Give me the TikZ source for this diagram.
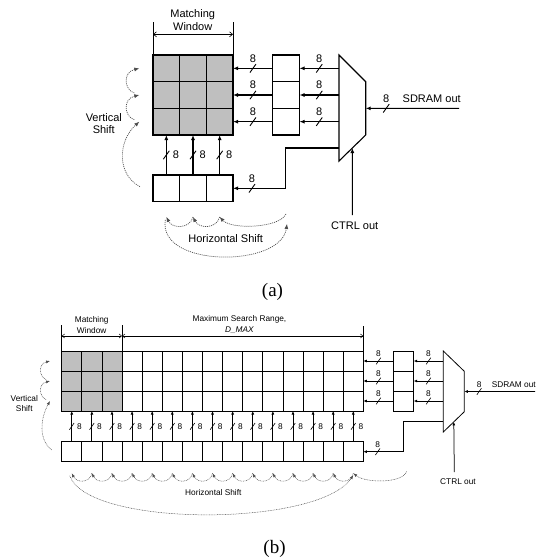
\documentclass[tikz,border=0pt]{standalone}
\usepackage{fontspec}
\setmainfont{Liberation Sans}
\newfontfamily\capfont{Liberation Serif}
\usetikzlibrary{arrows.meta, calc}

\begin{document}
\begin{tikzpicture}[x=1pt, y=-1pt,
    cellA/.style={draw, line width=1.2pt, minimum width=26.67pt, minimum height=26.67pt, inner sep=0pt, outer sep=0pt},
    cellB/.style={draw, line width=0.8pt, minimum width=20.11pt, minimum height=20pt, inner sep=0pt, outer sep=0pt},
    busA/.style={-{Latex[length=5pt,width=4pt]}, line width=1.1pt},
    busB/.style={-{Latex[length=3.5pt,width=3pt]}, line width=0.75pt},
    shiftA/.style={-{Latex[length=5pt,width=4pt]}, line width=0.7pt, gray!60!black, dash pattern=on 1pt off 1pt},
    shiftB/.style={-{Latex[length=4pt,width=3pt]}, line width=0.5pt, gray!60!black, dash pattern=on 0.8pt off 0.8pt},
    dimA/.style={{Straight Barb[length=3pt,width=5pt]}-{Straight Barb[length=3pt,width=5pt]}, line width=0.6pt},
    dimB/.style={{Straight Barb[length=2.5pt,width=4pt]}-{Straight Barb[length=2.5pt,width=4pt]}, line width=0.5pt},
    txtA/.style={font=\fontsize{11}{13.4}\selectfont, align=center, inner sep=1pt},
    txtB/.style={font=\fontsize{8.3}{10.7}\selectfont, align=center, inner sep=1pt},
    cutA/.pic={\draw[-, line width=0.9pt] (-3,4.2) -- (3,-4.2);},
    cutB/.pic={\draw[-, line width=0.6pt] (-2.3,3.3) -- (2.3,-3.3);}
]
\useasboundingbox (0,0) rectangle (542,558);

%%%%%%%%%% (a) %%%%%%%%%%
% Matching window and register rows
\foreach \r in {1,2,3} {
    \foreach \c in {1,2,3} {
        \node[cellA, fill=gray!50] (wA-\r-\c) at ({153+26.67*(\c-0.5)}, {55+26.67*(\r-0.5)}) {};
    }
    \node[cellA] (rA-\r) at (286.2, {55+26.67*(\r-0.5)}) {};
    \node[cellA] (bA-\r) at ({153+26.67*(\r-0.5)}, 188.3) {};
}

% Mux
\draw[line width=1.1pt] (339,55) coordinate (mA-tl) -- (365.7,81.7) coordinate (mA-tr)
    -- (365.7,135) coordinate (mA-br) -- (339,161) coordinate (mA-bl) -- cycle;
\coordinate (mA-out) at ($(mA-tr)!0.5!(mA-br)$);
\coordinate (mA-ctl) at ($(mA-bl)!0.5!(mA-br)$);
\coordinate (mA-fb) at (339,148);

% Buses
\foreach \r in {1,2,3} {
    \draw[busA] (rA-\r.west) -- (wA-\r-3.east) pic[pos=0.5]{cutA} node[txtA, pos=0.5, above=4.5pt] {8};
    \draw[busA] (mA-tl |- rA-\r) -- (rA-\r.east) pic[pos=0.5]{cutA} node[txtA, pos=0.5, above=4.5pt] {8};
    \draw[busA] (bA-\r.north) -- (wA-3-\r.south) pic[pos=0.5]{cutA} node[txtA, pos=0.5, right=5pt] {8};
}
\node[txtA] (sdA) at (431.7,98.3) {SDRAM out};
\coordinate (inA) at (459,108.3);
\draw[busA] (inA) -- (mA-out) pic[pos=0.78]{cutA} node[txtA, pos=0.78, above=4.5pt] {8};
\draw[busA] (mA-fb) -- ++(-53.3,0) |- (bA-3.east) pic[pos=0.82]{cutA} node[txtA, pos=0.82, above=4.5pt] {8};
\node[txtA] (ctA) at (354.7,225.7) {CTRL out};
\coordinate (ctlA) at (352.3,215);
\draw[busA] (ctlA) -- (mA-ctl);

% Window size
\draw[line width=0.6pt] (wA-1-1.north west) -- ++(0,-33);
\draw[line width=0.6pt] (wA-1-3.north east) -- ++(0,-33);
\coordinate (dA-l) at ($(wA-1-1.north west)+(0,-20.7)$);
\coordinate (dA-r) at ($(wA-1-3.north east)+(0,-20.7)$);
\draw[dimA] (dA-l) -- (dA-r);
\node[txtA] (mwA) at (192.7,20) {Matching\\Window};

% Vertical shift
\foreach \r in {1,2,3}
    \coordinate (vA-\r) at ($(wA-\r-1.west)+(-13.7,0)$);
\coordinate (vA-0) at ($(bA-1.west)+(-13,-1.6)$);
\draw[shiftA] ($(vA-2)+(-5,-2)$) .. controls +(-10,-3) and +(-17,4) .. (vA-1);
\draw[shiftA] ($(vA-3)+(-5,-2)$) .. controls +(-10,-3) and +(-17,4) .. (vA-2);
\draw[shiftA] (vA-0) .. controls +(-23,-12) and +(-22,20) .. (vA-3);
\node[txtA, font=\fontsize{11}{12}\selectfont] (vsA) at (103.8,123.3) {Vertical\\Shift};

% Horizontal shift
\foreach \c in {1,2,3}
    \coordinate (hA-\c) at ($(bA-\c.south)+(0,15.3)$);
\coordinate (hA-4) at ($(bA-3.south east)+(53,12.3)$);
\coordinate (hA-0) at ($(hA-1)+(-1,3)$);
\coordinate (hA-5) at ($(hA-4)+(1,10)$);
\foreach \c [evaluate=\c as \n using int(\c+1)] in {1,2}
    \draw[shiftA] (hA-\n) .. controls +(-3,12) and +(6,12) .. (hA-\c);
\draw[shiftA] (hA-4) .. controls +(-6,14) and +(12,13) .. (hA-3);
\draw[shiftA] (hA-0) .. controls +(-8,48) and +(-6,44) .. (hA-5);
\node[txtA] (hsA) at (225.7,239) {Horizontal Shift};

\node[font=\capfont\fontsize{19}{22}\selectfont] (capA) at (272.5,292) {(a)};

%%%%%%%%%% (b) %%%%%%%%%%
% Window plus search range
\foreach \r in {1,2,3} {
    \foreach \c in {1,...,15} {
        \ifnum\c<4 \def\cf{gray!50}\else\def\cf{white}\fi
        \node[cellB, fill=\cf] (wB-\r-\c) at ({61.7+20.11*(\c-0.5)}, {351+20*(\r-0.5)}) {};
    }
    \node[cellB] (rB-\r) at (403.65, {351+20*(\r-0.5)}) {};
}
\foreach \c in {1,...,15}
    \node[cellB] (bB-\c) at ({61.7+20.11*(\c-0.5)}, 451.7) {};

% Mux
\draw[line width=0.8pt] (443.3,351) coordinate (mB-tl) -- (464.3,371.3) coordinate (mB-tr)
    -- (464.3,411.7) coordinate (mB-br) -- (443.3,432) coordinate (mB-bl) -- cycle;
\coordinate (mB-out) at ($(mB-tr)!0.5!(mB-br)$);
\coordinate (mB-ctl) at ($(mB-bl)!0.5!(mB-br)$);
\coordinate (mB-fb) at (443.3,421);

% Buses
\foreach \r in {1,2,3} {
    \draw[busB] (rB-\r.west) -- (wB-\r-15.east) pic[pos=0.5]{cutB} node[txtB, pos=0.5, above=3pt] {8};
    \draw[busB] (mB-tl |- rB-\r) -- (rB-\r.east) pic[pos=0.5]{cutB} node[txtB, pos=0.5, above=3pt] {8};
}
\foreach \c in {1,...,15}
    \draw[busB] (bB-\c.north) -- (wB-3-\c.south) pic[pos=0.5]{cutB} node[txtB, pos=0.5, right=4pt] {8};
\node[txtB] (sdB) at (513.8,384.5) {SDRAM out};
\coordinate (inB) at (535,391.5);
\draw[busB] (inB) -- (mB-out) pic[pos=0.79]{cutB} node[txtB, pos=0.79, above=3pt] {8};
\draw[busB] (mB-fb) -- ++(-40,0) |- (bB-15.east) pic[pos=0.82]{cutB} node[txtB, pos=0.82, above=3pt] {8};
\node[txtB] (ctB) at (458,481.5) {CTRL out};
\coordinate (ctlB) at (454.3,472);
\draw[busB] (ctlB) -- (mB-ctl);

% Window and range sizes
\draw[line width=0.5pt] (wB-1-1.north west) -- ++(0,-26);
\draw[line width=0.5pt] (wB-1-3.north east) -- ++(0,-26);
\draw[line width=0.5pt] (wB-1-15.north east) -- ++(0,-25);
\coordinate (dB-1) at ($(wB-1-1.north west)+(0,-15)$);
\coordinate (dB-2) at ($(wB-1-3.north east)+(0,-15)$);
\coordinate (dB-3) at ($(wB-1-15.north east)+(0,-15)$);
\draw[dimB] (dB-1) -- (dB-2);
\draw[dimB] (dB-2) -- (dB-3);
\node[txtB] (mwB) at (91.7,324.7) {Matching\\Window};
\node[txtB] (msB) at (239.5,324.7) {Maximum Search Range,\\\textit{D\_MAX}};

% Vertical shift
\foreach \r in {1,2,3}
    \coordinate (vB-\r) at ($(wB-\r-1.west)+(-11.7,0)$);
\coordinate (vB-0) at ($(bB-1.west)+(-10,-1.7)$);
\draw[shiftB] ($(vB-2)+(-4,-1.5)$) .. controls +(-7,-3) and +(-12,3) .. (vB-1);
\draw[shiftB] ($(vB-3)+(-4,-1.5)$) .. controls +(-7,-3) and +(-12,3) .. (vB-2);
\draw[shiftB] (vB-0) .. controls +(-13,-10) and +(-10,18) .. (vB-3);
\node[txtB, font=\fontsize{8.3}{10}\selectfont] (vsB) at (24.3,403.3) {Vertical\\Shift};

% Horizontal shift
\foreach \c in {1,...,15}
    \coordinate (hB-\c) at ($(bB-\c.south)+(0,11.5)$);
\coordinate (hB-16) at ($(bB-15.south east)+(43.2,9.8)$);
\coordinate (hB-0) at ($(hB-1)+(-2,2.5)$);
\coordinate (hB-17) at ($(hB-15)+(0,2)$);
\foreach \c [evaluate=\c as \n using int(\c+1)] in {1,...,14}
    \draw[shiftB] (hB-\n) .. controls +(-2,10) and +(5,10) .. (hB-\c);
\draw[shiftB] (hB-16) .. controls +(-4,12) and +(12,10) .. (hB-15);
\draw[shiftB] (hB-0) .. controls +(18,52) and +(-35,52) .. (hB-17);
\node[txtB] (hsB) at (213.3,492.3) {Horizontal Shift};

\node[font=\capfont\fontsize{19}{22}\selectfont] (capB) at (274.5,549) {(b)};

\end{tikzpicture}
\end{document}
